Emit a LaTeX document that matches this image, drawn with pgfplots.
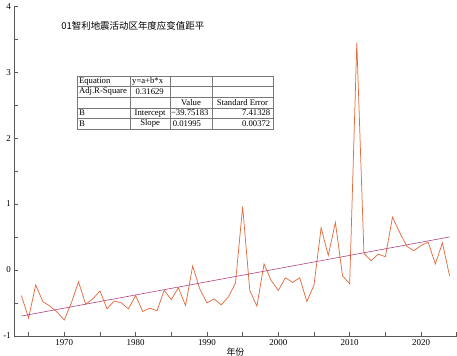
\documentclass[border=0pt]{standalone}
\usepackage{fontspec}
\setmainfont{Liberation Serif}
\newfontfamily\cjk{Noto Sans CJK SC}
\usepackage{pgfplots}
\pgfplotsset{compat=1.18}
\definecolor{dataline}{RGB}{228,108,64}
\definecolor{fitline}{RGB}{176,66,124}
\definecolor{tblgray}{RGB}{120,120,120}
\begin{document}
\begin{tikzpicture}
\begin{axis}[
  scale only axis, width=443bp, height=330bp,
  xmin=1963, xmax=2025, ymin=-1, ymax=4,
  axis x line*=bottom, axis y line*=left,
  axis line style={-, black!65, line width=0.6pt},
  xtick={1970,1980,...,2020},
  minor xtick={1965,1975,...,2025},
  ytick={-1,0,...,4},
  minor ytick={-0.5,0.5,...,3.5},
  tick align=inside,
  major tick length=4bp, minor tick length=4bp,
  tick style={black!65, line width=0.6pt},
  tick label style={font=\fontsize{9}{10}\selectfont},
  /pgf/number format/assume math mode=true,
  xticklabel style={/pgf/number format/1000 sep=},
  xlabel={\cjk 年份},
  xlabel style={at={(axis description cs:0.5,-0.035)}, anchor=north, font=\fontsize{9}{10}\selectfont, inner sep=0pt},
  clip=false,
]
\addplot[dataline, line width=0.75pt] coordinates {
(1964,-0.39) (1965,-0.73) (1966,-0.23) (1967,-0.48) (1968,-0.55) (1969,-0.64) (1970,-0.76)
(1971,-0.50) (1972,-0.18) (1973,-0.52) (1974,-0.44) (1975,-0.32) (1976,-0.59) (1977,-0.47)
(1978,-0.50) (1979,-0.59) (1980,-0.39) (1981,-0.63) (1982,-0.58) (1983,-0.62) (1984,-0.31)
(1985,-0.45) (1986,-0.27) (1987,-0.54) (1988,0.06) (1989,-0.29) (1990,-0.50) (1991,-0.44)
(1992,-0.53) (1993,-0.41) (1994,-0.20) (1995,0.96) (1996,-0.31) (1997,-0.55) (1998,0.09)
(1999,-0.16) (2000,-0.31) (2001,-0.12) (2002,-0.19) (2003,-0.12) (2004,-0.48) (2005,-0.23)
(2006,0.64) (2007,0.22) (2008,0.72) (2009,-0.09) (2010,-0.21) (2011,3.45) (2012,0.25)
(2013,0.14) (2014,0.24) (2015,0.20) (2016,0.80) (2017,0.57) (2018,0.36) (2019,0.29)
(2020,0.37) (2021,0.42) (2022,0.09) (2023,0.41) (2024,-0.09)
};
\addplot[fitline, line width=0.6pt] coordinates {(1964,-0.70) (2024,0.50)};
% title
\node[anchor=west, font=\cjk\fontsize{9.5}{11}\selectfont, inner sep=0pt] at (axis description cs:0.106,0.939) {01智利地震活动区年度应变值距平};
% table
\draw[tblgray, line width=0.5pt] (axis description cs:0.1415,0.789) rectangle (axis description cs:0.5847,0.627);
\draw[tblgray, line width=0.5pt] (axis description cs:0.1415,0.7566) -- (axis description cs:0.5847,0.7566);
\draw[tblgray, line width=0.5pt] (axis description cs:0.1415,0.7242) -- (axis description cs:0.5847,0.7242);
\draw[tblgray, line width=0.5pt] (axis description cs:0.1415,0.6918) -- (axis description cs:0.5847,0.6918);
\draw[tblgray, line width=0.5pt] (axis description cs:0.1415,0.6594) -- (axis description cs:0.5847,0.6594);
\draw[tblgray, line width=0.5pt] (axis description cs:0.2619,0.789) -- (axis description cs:0.2619,0.627);
\draw[tblgray, line width=0.5pt] (axis description cs:0.3521,0.789) -- (axis description cs:0.3521,0.627);
\draw[tblgray, line width=0.5pt] (axis description cs:0.4470,0.789) -- (axis description cs:0.4470,0.627);
\begin{scope}[every node/.style={font=\fontsize{8.7}{9}\selectfont, inner sep=0pt}]
\node[anchor=west] at (axis description cs:0.146,0.7728) {Equation};
\node[anchor=west] at (axis description cs:0.266,0.7728) {y=a+b*x};
\node[anchor=west] at (axis description cs:0.146,0.7404) {Adj.R-Square};
\node at (axis description cs:0.3060,0.7404) {0.31629};
\node at (axis description cs:0.3995,0.708) {Value};
\node at (axis description cs:0.5158,0.708) {Standard Error};
\node[anchor=west] at (axis description cs:0.146,0.6756) {B};
\node at (axis description cs:0.3070,0.6756) {Intercept};
\node[anchor=west] at (axis description cs:0.354,0.6756) {−39.75183};
\node[anchor=east] at (axis description cs:0.5790,0.6756) {7.41328};
\node[anchor=west] at (axis description cs:0.146,0.6432) {B};
\node at (axis description cs:0.3070,0.6432) {Slope};
\node[anchor=west] at (axis description cs:0.358,0.6432) {0.01995};
\node[anchor=east] at (axis description cs:0.5790,0.6432) {0.00372};
\end{scope}
\end{axis}
\end{tikzpicture}
\end{document}
